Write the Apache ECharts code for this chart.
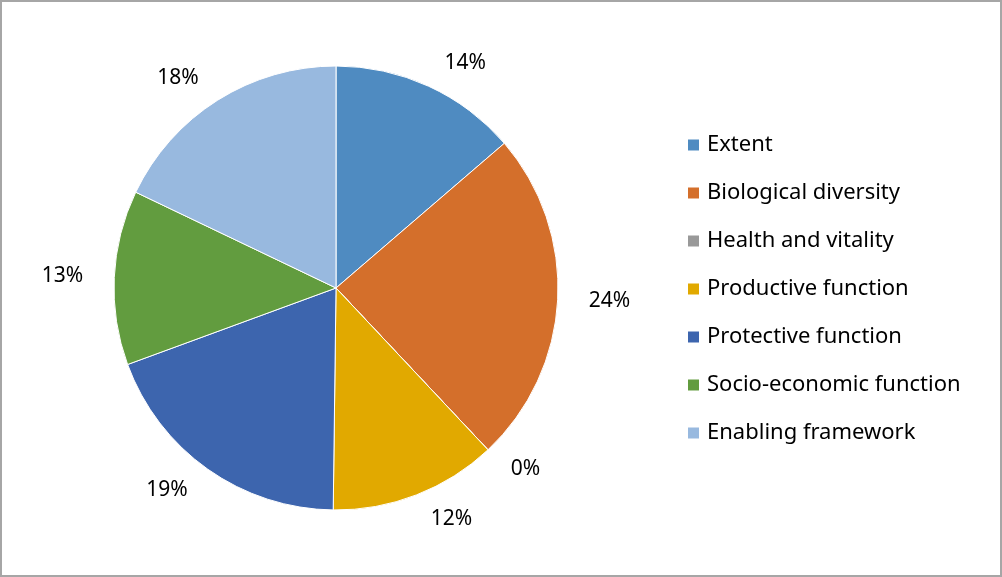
<!DOCTYPE html>
<html>
<head>
<meta charset="utf-8">
<script src="https://cdn.jsdelivr.net/npm/echarts@6/dist/echarts.min.js"></script>
<style>
html,body{margin:0;padding:0;background:#fff;}
#wrap{position:absolute;left:0;top:0;width:998px;height:573px;border:2px solid #a6a6a6;box-sizing:content-box;}
#chart{width:998px;height:573px;}
</style>
</head>
<body>
<div id="wrap"><div id="chart"></div></div>
<script>
const categories = ['Extent','Biological diversity','Health and vitality','Productive function','Protective function','Socio-economic function','Enabling framework'];
const values = [13.7, 24.3, 0, 12.2, 19.2, 12.7, 17.9];
const colors = ['#4F8BC1','#D46F2B','#999999','#E1A900','#3D65AE','#629C3F','#98B9DF'];

const chart = echarts.init(document.getElementById('chart'));
chart.setOption({
  animation: false,
  color: colors,
  legend: {
    orient: 'vertical',
    left: 679,
    top: 127,
    itemWidth: 13,
    itemHeight: 13,
    itemGap: 26,
    icon: 'rect',
    data: categories,
    textStyle: { fontFamily: 'Noto Sans', fontSize: 22, color: '#000', lineHeight: 21, padding: [0,0,0,2] }
  },
  series: [{
    type: 'pie',
    center: [334, 286],
    radius: 222,
    startAngle: 90,
    clockwise: true,
    avoidLabelOverlap: false,
    minShowLabelAngle: 0,
    itemStyle: { borderColor: '#fff', borderWidth: 1 },
    label: {
      show: true,
      position: 'outside',
      fontFamily: 'Noto Sans',
      fontSize: 21,
      color: '#000',
      formatter: p => Math.round(p.value) + '%'
    },
    labelLine: { show: false, length: 26, length2: 0 },
    data: categories.map((c, i) => ({ name: c, value: values[i] }))
  }]
});
</script>
</body>
</html>
